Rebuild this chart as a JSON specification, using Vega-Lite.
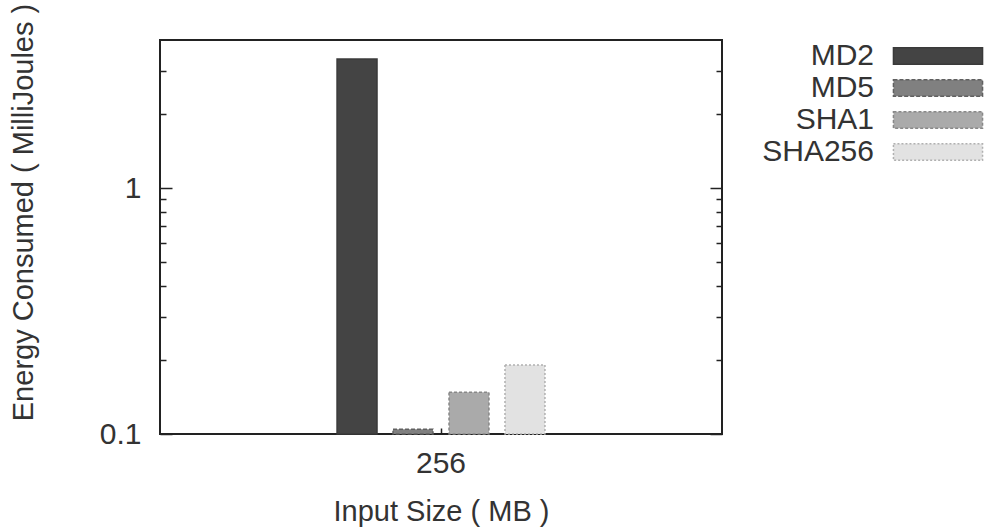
{
  "$schema": "https://vega.github.io/schema/vega-lite/v6.json",
  "width": 562,
  "height": 394,
  "autosize": {"type": "none"},
  "padding": {"left": 160, "top": 40, "right": 271, "bottom": 95},
  "background": "white",
  "config": {
    "font": "Liberation Sans",
    "view": {"stroke": "#222222", "strokeWidth": 2},
    "axis": {"labelFont": "Liberation Sans", "titleFont": "Liberation Sans", "labelColor": "#333333", "titleColor": "#333333", "titleFontWeight": "normal", "domain": false, "grid": false, "tickColor": "#222222", "tickWidth": 1.5}
  },
  "data": {
    "values": [
      {"size": "256", "algo": "MD2", "energy": 3.35},
      {"size": "256", "algo": "MD5", "energy": 0.1045},
      {"size": "256", "algo": "SHA1", "energy": 0.1477},
      {"size": "256", "algo": "SHA256", "energy": 0.191}
    ]
  },
  "layer": [
    {
      "mark": {"type": "bar", "strokeWidth": 1.5},
      "encoding": {
        "x": {
          "field": "size", "type": "nominal",
          "scale": {"paddingOuter": 0.755, "paddingInner": 0},
          "axis": {"title": "Input Size ( MB )", "labelAngle": 0, "labelFontSize": 30, "titleFontSize": 29, "tickSize": -6, "labelPadding": 20, "titleY": 63, "titleBaseline": "top"}
        },
        "xOffset": {"field": "algo", "type": "nominal", "sort": ["MD2", "MD5", "SHA1", "SHA256"], "scale": {"paddingInner": 0.286, "paddingOuter": 0.143}},
        "y": {
          "field": "energy", "type": "quantitative",
          "scale": {"type": "log", "domain": [0.1, 4], "nice": false},
          "axis": {
            "title": "Energy Consumed ( MilliJoules )", "titleFontSize": 29, "labelFontSize": 30,
            "values": [0.1, 0.2, 0.3, 0.4, 0.5, 0.6, 0.7, 0.8, 0.9, 1, 2, 3],
            "labelExpr": "datum.value == 1 ? '1' : (datum.value == 0.1 ? '0.1' : '')",
            "tickSize": {"condition": {"test": "datum.value == 1 || datum.value == 0.1", "value": -12}, "value": -6},
            "labelPadding": 31, "titleX": -137, "titleY": 172, "titleBaseline": "middle", "titleAngle": -90
          }
        },
        "y2": {"datum": 0.1},
        "color": {
          "field": "algo", "type": "nominal", "sort": ["MD2", "MD5", "SHA1", "SHA256"],
          "scale": {"domain": ["MD2", "MD5", "SHA1", "SHA256"], "range": ["#444444", "#808080", "#aaaaaa", "#e2e2e2"]},
          "legend": {
            "title": null, "orient": "none", "legendX": 762, "legendY": 0, "padding": 0,
            "symbolType": "M-2.97,-0.55H2.97V0.55H-2.97Z", "symbolSize": 900, "symbolStrokeWidth": 1.5,
            "labelAlign": "right", "labelOffset": -80, "labelFontSize": 30, "labelColor": "#333333", "rowPadding": 1
          }
        },
        "stroke": {
          "field": "algo", "type": "nominal",
          "scale": {"domain": ["MD2", "MD5", "SHA1", "SHA256"], "range": ["#3a3a3a", "#606060", "#888888", "#b0b0b0"]},
          "legend": null
        },
        "strokeDash": {
          "field": "algo", "type": "nominal",
          "scale": {"domain": ["MD2", "MD5", "SHA1", "SHA256"], "range": [[1, 0], [4, 2], [3, 2], [2, 2]]},
          "legend": null
        }
      }
    },
    {
      "mark": {"type": "bar", "opacity": 0},
      "encoding": {
        "x": {"field": "size", "type": "nominal", "scale": {"paddingOuter": 0.755, "paddingInner": 0}},
        "y": {
          "field": "energy", "type": "quantitative",
          "scale": {"type": "log", "domain": [0.1, 4], "nice": false},
          "axis": {
            "orient": "right", "title": null, "labels": false,
            "values": [0.1, 0.2, 0.3, 0.4, 0.5, 0.6, 0.7, 0.8, 0.9, 1, 2, 3],
            "tickSize": {"condition": {"test": "datum.value == 1 || datum.value == 0.1", "value": -12}, "value": -6}
          }
        }
      }
    }
  ],
  "resolve": {"axis": {"y": "independent"}}
}
